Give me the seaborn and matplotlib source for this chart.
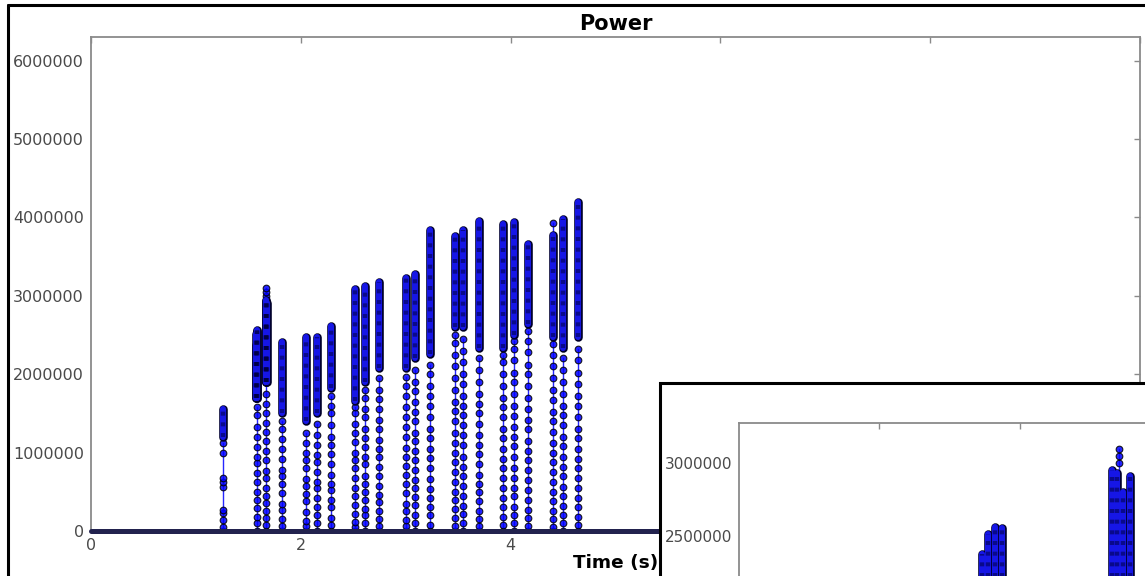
import numpy as np
import pandas as pd
import matplotlib
matplotlib.use("Agg")
import matplotlib.pyplot as plt
import matplotlib.patheffects as pe
from matplotlib.lines import Line2D
from matplotlib.patches import Rectangle
from matplotlib.ticker import MultipleLocator
import seaborn as sns

# ── data (power in millions, time in s) ─────────────────────
BURST_T = [1.26, 1.58, 1.67, 1.82, 2.05, 2.15, 2.29, 2.52, 2.61, 2.75, 3.00,
           3.09, 3.23, 3.47, 3.55, 3.70, 3.93, 4.03, 4.17, 4.40, 4.50, 4.64]

# isolated samples outside the dense part of each burst
BURST_SAMPLES = [
    [0.0, 0.05, 0.14, 0.23, 0.27, 0.56, 0.63, 0.68, 1.0, 1.12],
    [0.0, 0.1, 0.18, 0.29, 0.4, 0.5, 0.63, 0.74, 0.87, 0.95, 1.07, 1.2, 1.33, 1.48, 1.58],
    [0.0, 0.08, 0.16, 0.25, 0.36, 0.44, 0.55, 0.68, 0.77, 0.9, 1.02, 1.15, 1.26, 1.38, 1.5,
     1.62, 1.75, 3.0, 3.05, 3.1],
    [0.0, 0.06, 0.15, 0.27, 0.35, 0.48, 0.6, 0.7, 0.78, 0.92, 1.05, 1.17, 1.3, 1.4],
    [0.0, 0.07, 0.13, 0.24, 0.38, 0.47, 0.58, 0.66, 0.8, 0.9, 1.0, 1.12, 1.25],
    [0.0, 0.1, 0.2, 0.3, 0.42, 0.55, 0.62, 0.75, 0.88, 0.97, 1.1, 1.22, 1.36],
    [0.0, 0.08, 0.17, 0.3, 0.4, 0.52, 0.6, 0.72, 0.85, 0.98, 1.1, 1.2, 1.35, 1.5, 1.6, 1.72],
    [0.0, 0.05, 0.12, 0.22, 0.33, 0.45, 0.55, 0.67, 0.8, 0.9, 1.0, 1.13, 1.25, 1.37, 1.5, 1.58],
    [0.0, 0.1, 0.2, 0.28, 0.4, 0.5, 0.6, 0.7, 0.85, 0.95, 1.07, 1.18, 1.3, 1.45, 1.55, 1.7, 1.8],
    [0.0, 0.07, 0.15, 0.25, 0.37, 0.46, 0.58, 0.7, 0.82, 0.95, 1.05, 1.16, 1.3, 1.42, 1.55,
     1.68, 1.8, 1.95],
    [0.0, 0.06, 0.14, 0.25, 0.35, 0.48, 0.6, 0.72, 0.83, 0.95, 1.06, 1.2, 1.33, 1.45, 1.58,
     1.72, 1.85, 1.97],
    [0.0, 0.1, 0.2, 0.33, 0.43, 0.55, 0.65, 0.78, 0.9, 1.02, 1.15, 1.25, 1.4, 1.52, 1.65,
     1.78, 1.9, 2.05],
    [0.0, 0.08, 0.2, 0.3, 0.42, 0.53, 0.66, 0.8, 0.93, 1.05, 1.18, 1.3, 1.45, 1.6, 1.72,
     1.85, 2.0, 2.12],
    [0.0, 0.07, 0.16, 0.28, 0.4, 0.5, 0.62, 0.75, 0.88, 1.0, 1.12, 1.25, 1.4, 1.53, 1.65,
     1.8, 1.95, 2.1, 2.25, 2.4, 2.5],
    [0.0, 0.1, 0.22, 0.32, 0.45, 0.58, 0.7, 0.82, 0.95, 1.1, 1.22, 1.35, 1.48, 1.6, 1.72,
     1.88, 2.0, 2.15, 2.3, 2.45],
    [0.0, 0.06, 0.15, 0.25, 0.38, 0.5, 0.6, 0.72, 0.85, 0.98, 1.1, 1.22, 1.36, 1.5, 1.62,
     1.75, 1.9, 2.05, 2.2],
    [0.0, 0.08, 0.18, 0.3, 0.42, 0.55, 0.68, 0.8, 0.92, 1.05, 1.18, 1.3, 1.45, 1.58, 1.7,
     1.85, 2.0, 2.15, 2.25],
    [0.0, 0.1, 0.2, 0.3, 0.45, 0.55, 0.68, 0.8, 0.95, 1.08, 1.2, 1.32, 1.47, 1.6, 1.75,
     1.9, 2.02, 2.18, 2.32, 2.42],
    [0.0, 0.07, 0.17, 0.27, 0.4, 0.52, 0.65, 0.78, 0.9, 1.02, 1.15, 1.3, 1.42, 1.55, 1.7,
     1.85, 2.0, 2.12, 2.28, 2.42, 2.55],
    [0.0, 0.05, 0.15, 0.26, 0.38, 0.5, 0.62, 0.75, 0.88, 1.0, 1.12, 1.26, 1.4, 1.52, 1.67,
     1.8, 1.95, 2.1, 2.25, 2.38, 3.93],
    [0.0, 0.1, 0.2, 0.32, 0.45, 0.56, 0.7, 0.82, 0.95, 1.08, 1.2, 1.35, 1.48, 1.6, 1.75,
     1.9, 2.05, 2.2],
    [0.0, 0.08, 0.18, 0.3, 0.42, 0.55, 0.68, 0.8, 0.92, 1.05, 1.18, 1.3, 1.45, 1.6, 1.72,
     1.88, 2.02, 2.18, 2.32],
]

# dense parts (bursts 2 and 3 split into the sub-columns seen in the zoom)
BAND_T = [1.26, 1.573, 1.577, 1.582, 1.587, 1.665, 1.669, 1.673, 1.678,
          1.82, 2.05, 2.15, 2.29, 2.52, 2.61, 2.75, 3.00, 3.09, 3.23,
          3.47, 3.55, 3.70, 3.93, 4.03, 4.17, 4.40, 4.50, 4.64]
BAND_LO = [1.20, 1.70, 1.70, 1.70, 1.70, 1.90, 1.90, 1.90, 1.90,
           1.50, 1.40, 1.50, 1.83, 1.66, 1.90, 2.08, 2.08, 2.20, 2.26,
           2.60, 2.60, 2.34, 2.34, 2.50, 2.64, 2.48, 2.34, 2.48]
BAND_HI = [1.56, 2.37, 2.51, 2.56, 2.55, 2.95, 2.93, 2.80, 2.91,
           2.41, 2.47, 2.48, 2.62, 3.08, 3.12, 3.17, 3.23, 3.28, 3.84,
           3.76, 3.84, 3.95, 3.92, 3.94, 3.66, 3.78, 3.98, 4.20]

BASE_T = [0.0, 10.0]
BASE_V = [0.0, 0.0]

MAIN_XLIM = (0, 10)
INSET_XLIM = (1.4007, 1.7986)
INSET_YLIM = (1.365, 3.278)
MILLION = 1e6

W, H = 1145, 576
BLUE = "#0000ff"
BAND = "#1616e6"
NAVY = "#22224e"
SPINE = "#8a8a8a"
TXT = "#4a4a4a"

sns.set_theme(style="white")
plt.rcParams.update({
    "font.family": ["DejaVu Sans"],
    "xtick.direction": "in",
    "ytick.direction": "in",
})

samples = pd.DataFrame(
    [(i, t, v * MILLION) for i, (t, vals) in enumerate(zip(BURST_T, BURST_SAMPLES)) for v in vals],
    columns=["burst", "t", "power"],
)


def box(left, top, right, bottom):
    return [left / W, 1 - bottom / H, (right - left) / W, (bottom - top) / H]


def draw_signal(ax, base=True):
    sns.lineplot(data=samples, x="t", y="power", units="burst", estimator=None,
                 sort=False, color=BLUE, lw=1.0, alpha=0.85, marker="o", markersize=4.8,
                 markerfacecolor=BLUE, markeredgecolor="black", markeredgewidth=0.8,
                 legend=False, ax=ax, zorder=2)
    lo = np.array(BAND_LO) * MILLION
    hi = np.array(BAND_HI) * MILLION
    ax.vlines(BAND_T, lo, hi, colors=BAND, lw=4.4, zorder=3, capstyle="round",
              path_effects=[pe.Stroke(linewidth=6.2, foreground="#000028", capstyle="round"),
                            pe.Normal()])
    # dark speckle of overlapping marker edges inside the dense part
    ax.vlines(BAND_T, lo, hi, colors="#000040", lw=3.2, alpha=0.55, zorder=3.5,
              linestyles=[(0, (0.9, 1.5))])
    if base:
        sns.lineplot(x=BASE_T, y=BASE_V, color=NAVY, lw=3.6, ax=ax, zorder=4, clip_on=False)


def style_axes(ax, size):
    for s in ax.spines.values():
        s.set_color(SPINE)
        s.set_linewidth(1.3)
    ax.tick_params(top=True, right=True, length=4, width=1, color=SPINE,
                   labelsize=size, labelcolor=TXT, pad=5)
    ax.ticklabel_format(style="plain", useOffset=False, axis="y")
    ax.set_xlabel("")
    ax.set_ylabel("")
    ax.grid(False)


fig = plt.figure(figsize=(W / 100, H / 100), dpi=100)

# outer window frame
fig.add_artist(Line2D([8 / W, 8 / W], [0, 1 - 5 / H], transform=fig.transFigure,
                      color="black", lw=2.2))
fig.add_artist(Line2D([8 / W, 1], [1 - 5 / H, 1 - 5 / H], transform=fig.transFigure,
                      color="black", lw=2.2))

# main plot
ax = fig.add_axes(box(91, 37, 1140, 531))
draw_signal(ax)
style_axes(ax, 11.5)
ax.set_xlim(*MAIN_XLIM)
ax.set_ylim(0, max(BAND_HI + [v for s in BURST_SAMPLES for v in s]) * MILLION * 1.5)
ax.xaxis.set_major_locator(MultipleLocator(2))
ax.yaxis.set_major_locator(MultipleLocator(MILLION))
ax.set_title("Power", fontweight="bold", fontsize=15, pad=5, color="black")
ax.set_xlabel("Time (s)", fontweight="bold", fontsize=13.3, labelpad=1, color="black")

# overlapping zoom window
fig.add_artist(Rectangle((660 / W, 1 - 700 / H), 700 / W, (700 - 383) / H,
                         transform=fig.transFigure, facecolor="white",
                         edgecolor="black", lw=2.2, zorder=5, clip_on=False))
ins = fig.add_axes(box(739, 423, 1300, 700))
ins.set_zorder(6)
draw_signal(ins, base=False)
style_axes(ins, 11)
ins.set_xlim(*INSET_XLIM)
ins.set_ylim(INSET_YLIM[0] * MILLION, INSET_YLIM[1] * MILLION)
ins.xaxis.set_major_locator(MultipleLocator(0.1))
ins.yaxis.set_major_locator(MultipleLocator(0.5 * MILLION))
ins.tick_params(labelbottom=False)

fig.savefig("out.png", dpi=100)
